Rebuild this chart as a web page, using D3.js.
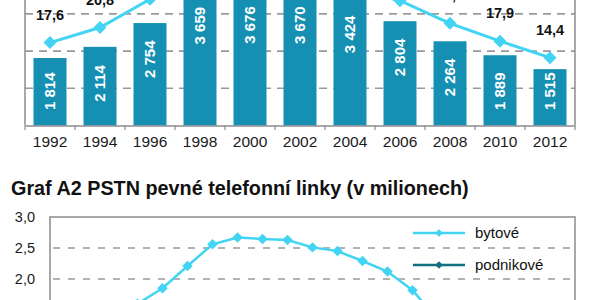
<!DOCTYPE html>
<html>
<head>
<meta charset="utf-8">
<script src="https://cdn.jsdelivr.net/npm/d3@7"></script>
<style>
  html, body { margin: 0; padding: 0; background: #fff; }
  svg { display: block; font-family: "Liberation Sans", Arial, sans-serif; }
</style>
</head>
<body>
<svg id="chart" width="600" height="300"></svg>
<script>
// ---- Top chart data ----
const years = [1992, 1994, 1996, 1998, 2000, 2002, 2004, 2006, 2008, 2010, 2012];
const barValues = [1814, 2114, 2754, 3659, 3676, 3670, 3424, 2804, 2264, 1889, 1515];
const lineValues = [17.6, 20.8, 26.8, 31.0, 33.0, 32.0, 29.0, 26.5, 21.7, 17.9, 14.4];
const barGridTicks = [1000, 2000, 3000];

// ---- Bottom chart data ----
const title2 = "Graf A2 PSTN pevné telefonní linky (v milionech)";
const years2 = [1993, 1994, 1995, 1996, 1997, 1998, 1999, 2000, 2001, 2002, 2003,
                2004, 2005, 2006, 2007, 2008, 2009, 2010, 2011, 2012, 2013];
const bytove = [1.20, 1.35, 1.50, 1.60, 1.85, 2.21, 2.56, 2.67, 2.645, 2.63, 2.51,
                2.45, 2.29, 2.12, 1.82, 1.35, 1.10, 0.95, 0.80, 0.70, 0.60];
const podnikove = [0.40, 0.50, 0.60, 0.70, 0.80, 0.95, 1.05, 1.10, 1.15, 1.10, 1.05,
                   1.00, 0.95, 0.90, 0.85, 0.75, 0.70, 0.65, 0.60, 0.55, 0.50];
const yTicks2 = [2.0, 2.5, 3.0];
const seriesNames = ["bytové", "podnikové"];

const svg = d3.select("#chart");
const locale = d3.formatLocale({decimal: ",", thousands: "\u00a0", grouping: [3], currency: ["", ""]});
const fmtThousands = locale.format(",d");
const fmt1 = locale.format(".1f");

const barColor = "#1690b2";
const cyan = "#42d4f2";
const darkTeal = "#13707f";
const gridColor = "#999999";
const axisColor = "#8c8c8c";

// ================= TOP CHART =================
const x1 = d3.scaleBand().domain(years).range([25, 575]).paddingInner(0.34).paddingOuter(0.17);
const yBar = d3.scaleLinear().domain([0, 4000]).range([125.5, 125.5 - 4000 * 0.0372]);
const yLine = d3.scaleLinear().domain([0, 30]).range([125.5, 125.5 - 30 * 4.71]);

const topG = svg.append("g");

// gridlines
topG.selectAll("line.grid").data(barGridTicks).join("line")
  .attr("x1", 25).attr("x2", 575)
  .attr("y1", d => yBar(d)).attr("y2", d => yBar(d))
  .attr("stroke", gridColor).attr("stroke-width", 1.6)
  .attr("stroke-dasharray", "8,6");

// bars
topG.selectAll("rect.bar").data(years).join("rect")
  .attr("x", d => x1(d))
  .attr("width", x1.bandwidth())
  .attr("y", (d, i) => yBar(barValues[i]))
  .attr("height", (d, i) => yBar(0) - yBar(barValues[i]))
  .attr("fill", barColor);

// bar labels (rotated)
topG.selectAll("text.blabel").data(years).join("text")
  .attr("transform", (d, i) => {
    const cx = x1(d) + x1.bandwidth() / 2 + 5;
    const by = Math.min(yBar(barValues[i]) + 55, 110);
    return `translate(${cx},${by}) rotate(-90)`;
  })
  .attr("text-anchor", "start")
  .attr("fill", "#fff")
  .attr("font-weight", "bold")
  .attr("font-size", 15)
  .text((d, i) => fmtThousands(barValues[i]));

// axes lines
const xAxis = d3.axisBottom(x1).tickSize(0).tickPadding(10);
const axG = topG.append("g").attr("transform", "translate(0,125.5)").call(xAxis);
axG.select(".domain").attr("stroke", axisColor).attr("stroke-width", 1.5);
axG.selectAll("text").attr("font-size", 15.5).attr("fill", "#1a1a1a")
  .attr("font-family", "'Liberation Sans', Arial, sans-serif");
// band-boundary ticks
const bounds = years.map(d => x1(d) - x1.step() * x1.paddingInner() / 2).concat([575]);
topG.selectAll("line.btick").data(bounds).join("line")
  .attr("x1", d => d).attr("x2", d => d)
  .attr("y1", 125.5).attr("y2", 130)
  .attr("stroke", axisColor).attr("stroke-width", 1.2);
topG.append("line").attr("x1", 25).attr("x2", 25).attr("y1", -5).attr("y2", 125.5)
  .attr("stroke", axisColor).attr("stroke-width", 1.5);
topG.append("line").attr("x1", 575).attr("x2", 575).attr("y1", -5).attr("y2", 125.5)
  .attr("stroke", axisColor).attr("stroke-width", 1.5);

// line
const lineGen1 = d3.line()
  .x((d, i) => x1(years[i]) + x1.bandwidth() / 2)
  .y(d => yLine(d));
topG.append("path").datum(lineValues)
  .attr("d", lineGen1).attr("fill", "none")
  .attr("stroke", cyan).attr("stroke-width", 3);
const diamond1 = d3.symbol().type(d3.symbolSquare).size(85);
topG.selectAll("path.m1").data(lineValues).join("path")
  .attr("d", diamond1)
  .attr("transform", (d, i) => `translate(${x1(years[i]) + x1.bandwidth() / 2},${yLine(d)}) rotate(45)`)
  .attr("fill", cyan);
topG.selectAll("text.llabel").data(lineValues).join("text")
  .attr("x", (d, i) => x1(years[i]) + x1.bandwidth() / 2)
  .attr("y", d => yLine(d) - 23)
  .attr("text-anchor", "middle")
  .attr("font-weight", "bold")
  .attr("font-size", 14.5)
  .attr("fill", "#111")
  .text(d => fmt1(d));

// ================= BOTTOM CHART =================
const botG = svg.append("g");
botG.append("text")
  .attr("x", 11).attr("y", 195)
  .attr("font-weight", "bold").attr("font-size", 19.8).attr("fill", "#111")
  .text(title2);

const x2 = d3.scaleBand().domain(years2).range([50, 575]);
const y2 = d3.scaleLinear().domain([0, 3]).range([217 + 186, 217]);

// gridlines
botG.selectAll("line.grid2").data(yTicks2.filter(t => t < 3)).join("line")
  .attr("x1", 50).attr("x2", 575)
  .attr("y1", d => y2(d)).attr("y2", d => y2(d))
  .attr("stroke", gridColor).attr("stroke-width", 1.6)
  .attr("stroke-dasharray", "7,8").attr("stroke-dashoffset", -3);

// frame
botG.append("rect").attr("x", 50).attr("y", 217).attr("width", 525).attr("height", 200)
  .attr("fill", "none").attr("stroke", axisColor).attr("stroke-width", 1.5);

// y labels
botG.selectAll("text.yl").data(yTicks2).join("text")
  .attr("x", 35).attr("y", d => y2(d) + 5)
  .attr("text-anchor", "end").attr("font-size", 14.5).attr("fill", "#1a1a1a")
  .text(d => fmt1(d));

const lineGen2 = d3.line()
  .x((d, i) => x2(years2[i]) + x2.bandwidth() / 2)
  .y(d => y2(d));
const diamond2 = d3.symbol().type(d3.symbolSquare).size(55);
[[podnikove, darkTeal], [bytove, cyan]].forEach(([vals, col]) => {
  botG.append("path").datum(vals).attr("d", lineGen2)
    .attr("fill", "none").attr("stroke", col).attr("stroke-width", 2.5);
  botG.selectAll(null).data(vals).join("path")
    .attr("d", diamond2)
    .attr("transform", (d, i) => `translate(${x2(years2[i]) + x2.bandwidth() / 2},${y2(d)}) rotate(45)`)
    .attr("fill", col);
});

// legend
const legendY = [233, 265];
const legendCols = [cyan, darkTeal];
const diamondL = d3.symbol().type(d3.symbolSquare).size(30);
seriesNames.forEach((name, i) => {
  const g = botG.append("g");
  g.append("line").attr("x1", 413).attr("x2", 465).attr("y1", legendY[i]).attr("y2", legendY[i])
    .attr("stroke", legendCols[i]).attr("stroke-width", 2.5);
  g.append("path").attr("d", diamondL)
    .attr("transform", `translate(439,${legendY[i]}) rotate(45)`)
    .attr("fill", legendCols[i]);
  g.append("text").attr("x", 475).attr("y", legendY[i] + 5)
    .attr("font-size", 15).attr("fill", "#111").text(name);
});
</script>
</body>
</html>
